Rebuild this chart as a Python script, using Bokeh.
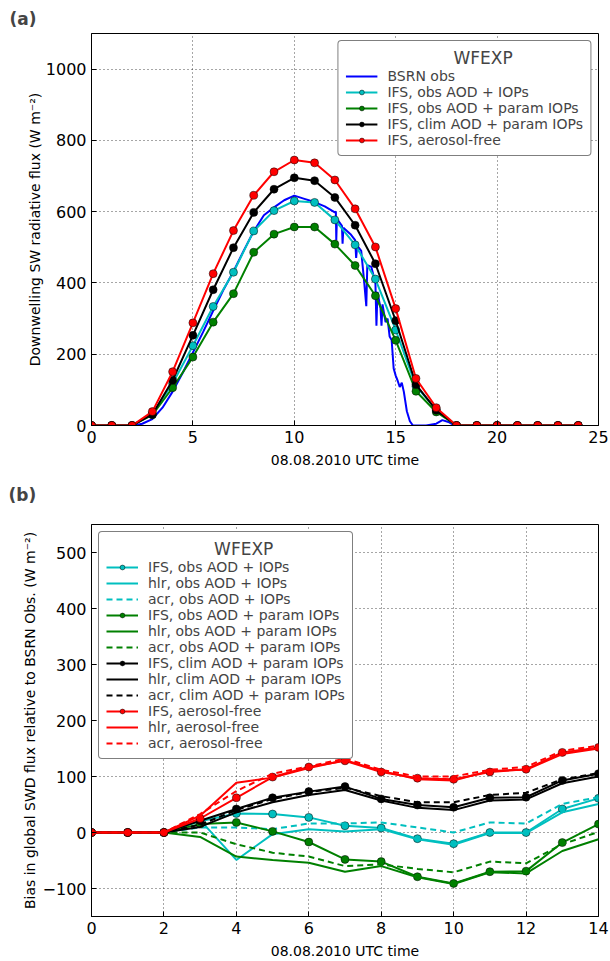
from bokeh.plotting import figure
from bokeh.layouts import column
from bokeh.models import Range1d, FixedTicker, Legend, LegendItem
from bokeh.embed import file_html
from bokeh.resources import INLINE

FONT = "DejaVu Sans"

# ---------------- panel (a) data ----------------
hours = list(range(25))
ifs_obs_aod_iops = [0, 0, 0, 33, 118, 224, 334, 430, 546, 603, 630, 626, 577, 507, 411, 268, 110, 45, 0, 0, 0, 0, 0, 0, 0]
ifs_obs_aod_param = [0, 0, 0, 30, 106, 192, 290, 370, 486, 537, 557, 557, 509, 449, 364, 239, 96, 38, 0, 0, 0, 0, 0, 0, 0]
ifs_clim_aod_param = [0, 0, 0, 31, 127, 253, 381, 499, 598, 663, 695, 687, 640, 562, 454, 294, 115, 43, 0, 0, 0, 0, 0, 0, 0]
ifs_aerosol_free = [0, 0, 0, 39, 151, 288, 426, 547, 646, 712, 745, 737, 689, 608, 501, 328, 132, 50, 0, 0, 0, 0, 0, 0, 0]

bsrn_hours = [0, 2.1, 2.5, 3.0, 3.5, 4.0, 4.5, 5.0, 5.5, 6.0, 6.5, 7.0, 7.5, 8.0, 8.5, 9.0, 9.5, 10.0, 10.5,
              11.0, 11.5, 12.0, 12.05, 12.07, 12.1, 12.35, 12.38, 12.42, 12.8, 13.0, 13.05, 13.1, 13.3, 13.45,
              13.55, 13.6, 13.8, 14.0, 14.05, 14.1, 14.25, 14.3, 14.35, 14.5, 14.6, 14.7, 14.8, 14.9, 15.0,
              15.1, 15.2, 15.3, 15.4, 15.55, 15.7, 15.85, 16.5, 17.0, 17.3, 17.6, 17.9, 24]
bsrn_obs = [0, 0, 5, 18, 50, 95, 148, 205, 262, 322, 380, 432, 490, 545, 590, 612, 632, 645, 636,
            627, 615, 598, 600, 520, 580, 560, 510, 555, 535, 520, 470, 505, 490, 400,
            335, 450, 445, 400, 280, 375, 330, 280, 340, 290, 300, 250, 240, 160, 140,
            125, 108, 120, 95, 40, 12, 0, 0, 5, 15, 10, 0, 0]

# ---------------- panel (b) data ----------------
hours_b = list(range(15))
cyan_ifs = [0, 0, 0, 20, 34, 33, 27, 12, 8, -11, -20, 0, 0, 42, 61]
cyan_hlr = [0, 0, 0, 22, -49, -3, 6, 2, 6, -12, -22, -1, -1, 36, 51]
cyan_acr = [0, 0, 0, 9, 9, 6, 16, 16, 18, 9, 0, 18, 16, 51, 63]
green_ifs = [0, 0, 0, 15, 18, 2, -17, -48, -52, -79, -91, -70, -69, -18, 15]
green_hlr = [0, 0, 0, -8, -43, -49, -54, -70, -60, -80, -92, -71, -73, -33, -12]
green_acr = [0, 0, 0, 0, -21, -36, -43, -60, -57, -65, -71, -52, -55, -21, 1]
black_ifs = [0, 0, 0, 21, 42, 62, 73, 82, 60, 49, 45, 62, 63, 93, 105]
black_hlr = [0, 0, 0, 10, 36, 54, 67, 76, 57, 44, 40, 57, 59, 88, 100]
black_acr = [0, 0, 0, 14, 40, 60, 72, 80, 65, 54, 54, 67, 71, 95, 106]
red_ifs = [0, 0, 0, 25, 62, 99, 117, 128, 108, 97, 95, 108, 113, 143, 152]
red_hlr = [0, 0, 0, 30, 89, 98, 115, 129, 110, 95, 93, 110, 112, 140, 150]
red_acr = [0, 0, 0, 33, 74, 105, 118, 132, 112, 100, 100, 112, 117, 146, 155]

xticks_a = [0, 5, 10, 15, 20, 25]
yticks_a = [0, 200, 400, 600, 800, 1000]
xticks_b = [0, 2, 4, 6, 8, 10, 12, 14]
yticks_b = [-100, 0, 100, 200, 300, 400, 500]

C_CYAN = "#00BFBF"
C_GREEN = "#008000"
C_BLACK = "#000000"
C_RED = "#FF0000"
C_BLUE = "#0000FF"


def style(p, xt, yt):
    p.outline_line_color = "black"
    p.outline_line_width = 1
    p.xaxis.ticker = FixedTicker(ticks=xt)
    p.yaxis.ticker = FixedTicker(ticks=yt)
    for ax in (p.xaxis + p.yaxis):
        ax.axis_line_color = "black"
        ax.major_tick_in = 5
        ax.major_tick_out = 0
        ax.minor_tick_line_color = None
        ax.major_label_text_font = FONT
        ax.major_label_text_font_size = "16px"
        ax.major_label_text_color = "black"
        ax.axis_label_text_font = FONT
        ax.axis_label_text_font_size = "14px"
        ax.axis_label_text_font_style = "normal"
        ax.axis_label_text_color = "black"
        ax.major_label_standoff = 5
        ax.axis_label_standoff = 6
    p.xgrid.ticker = FixedTicker(ticks=xt)
    p.ygrid.ticker = FixedTicker(ticks=yt)
    for g in (p.xgrid + p.ygrid):
        g.grid_line_color = "black"
        g.grid_line_alpha = 0.7
        g.grid_line_dash = "1 3"
        g.grid_line_width = 1
    p.title.text_font = FONT
    p.title.text_font_size = "17px"
    p.title.text_font_style = "bold"
    p.title.align = "left"


def legend_style(lg):
    lg.label_text_font = FONT
    lg.label_text_font_size = "14px"
    lg.title_text_font = FONT
    lg.title_text_font_size = "17px"
    lg.title_text_font_style = "normal"
    lg.border_line_color = "black"
    lg.border_line_width = 1
    lg.background_fill_alpha = 1
    lg.glyph_width = 32
    lg.glyph_height = 12
    lg.label_height = 12
    lg.spacing = 0
    lg.padding = 7
    lg.margin = 7
    lg.label_standoff = 10
    lg.title_standoff = 0
    try:
        lg.border_radius = 4
    except Exception:
        pass


# ================= panel (a) =================
pa = figure(width=610, height=470, x_range=Range1d(0, 25), y_range=Range1d(0, 1100),
            output_backend="svg", toolbar_location=None, title="(a)",
            min_border_left=90, min_border_right=12, min_border_top=33, min_border_bottom=44)
style(pa, xticks_a, yticks_a)
pa.title.offset = -82
pa.xaxis.axis_label = "08.08.2010 UTC time"
pa.yaxis.axis_label = "Downwelling SW radiative flux (W m\u207b\u00b2)"
pa.yaxis.axis_label_standoff = 0

items_a = []
rb = pa.line(bsrn_hours, bsrn_obs, line_color=C_BLUE, line_width=2)
items_a.append(LegendItem(label="BSRN obs", renderers=[rb]))
for lab, ys, col in [("IFS, obs AOD + IOPs", ifs_obs_aod_iops, C_CYAN),
                     ("IFS, obs AOD + param IOPs", ifs_obs_aod_param, C_GREEN),
                     ("IFS, clim AOD + param IOPs", ifs_clim_aod_param, C_BLACK),
                     ("IFS, aerosol-free", ifs_aerosol_free, C_RED)]:
    l = pa.line(hours, ys, line_color=col, line_width=2)
    s = pa.scatter(hours, ys, marker="circle", size=8, fill_color=col, line_color="black", line_width=0.5)
    items_a.append(LegendItem(label=lab, renderers=[l, s]))

lga = Legend(items=items_a, location="top_right",
             title="\u00a0" * 20 + "WFEXP")
legend_style(lga)
pa.add_layout(lga, "center")

# ================= panel (b) =================
pb = figure(width=610, height=491, x_range=Range1d(0, 14), y_range=Range1d(-150, 550),
            output_backend="svg", toolbar_location=None, title="(b)\n",
            min_border_left=91, min_border_right=10, min_border_top=54, min_border_bottom=43)
style(pb, xticks_b, yticks_b)
pb.title.offset = -83
pb.title.text_line_height = 0.75
pb.yaxis.major_label_overrides = {-100: "\u2212100"}
pb.yaxis.axis_label_standoff = 2
pb.xaxis.axis_label = "08.08.2010 UTC time"
pb.yaxis.axis_label = "Bias in global SWD flux relative to BSRN Obs. (W m\u207b\u00b2)"

items_b = []
for name, col, ifs, hlr, acr in [("obs AOD + IOPs", C_CYAN, cyan_ifs, cyan_hlr, cyan_acr),
                                 ("obs AOD + param IOPs", C_GREEN, green_ifs, green_hlr, green_acr),
                                 ("clim AOD + param IOPs", C_BLACK, black_ifs, black_hlr, black_acr),
                                 ("aerosol-free", C_RED, red_ifs, red_hlr, red_acr)]:
    l = pb.line(hours_b, ifs, line_color=col, line_width=2)
    s = pb.scatter(hours_b, ifs, marker="circle", size=8, fill_color=col, line_color="black", line_width=0.5)
    items_b.append(LegendItem(label="IFS, " + name, renderers=[l, s]))
    lh = pb.line(hours_b, hlr, line_color=col, line_width=2)
    items_b.append(LegendItem(label="hlr, " + name, renderers=[lh]))
    la = pb.line(hours_b, acr, line_color=col, line_width=2, line_dash="6 4")
    items_b.append(LegendItem(label="acr, " + name, renderers=[la]))

lgb = Legend(items=items_b, location="top_left",
             title="\u00a0" * 20 + "WFEXP")
legend_style(lgb)
pb.add_layout(lgb, "center")

layout = column(pa, pb, spacing=0)
open("out.html", "w").write(file_html(layout, INLINE))
